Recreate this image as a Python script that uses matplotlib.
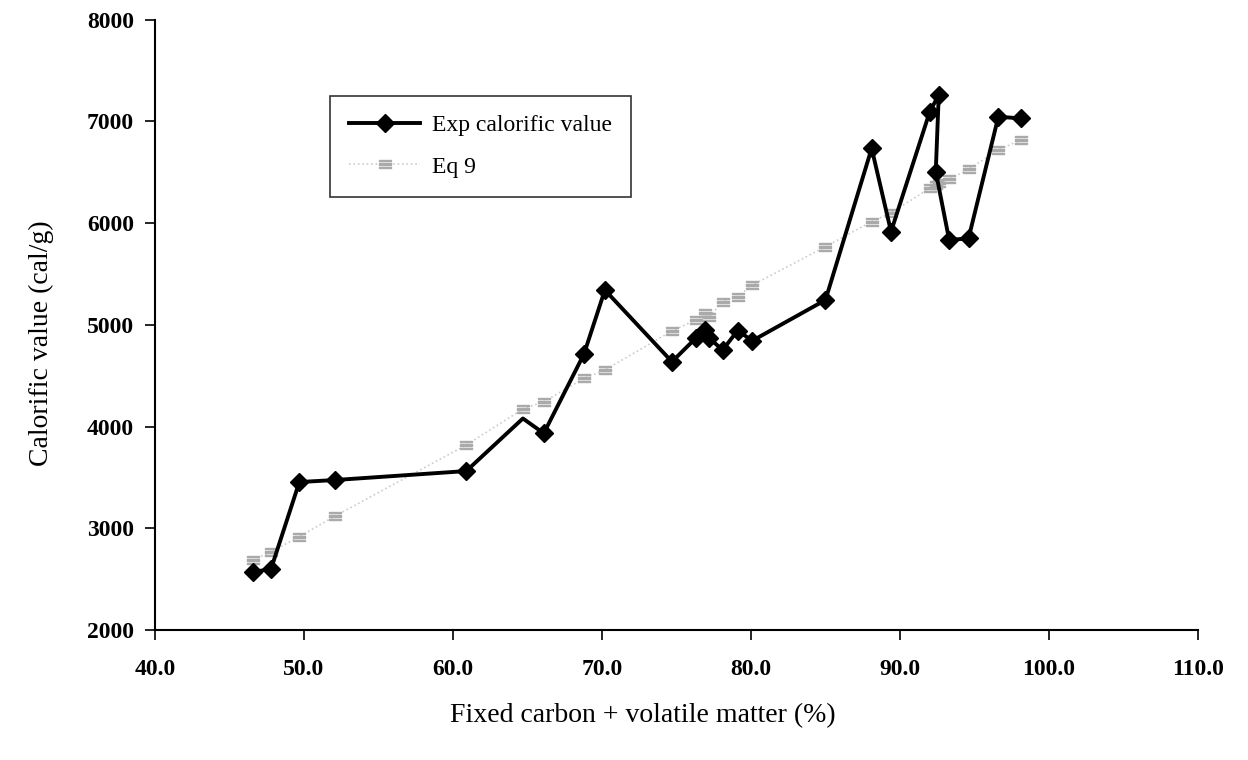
import matplotlib
matplotlib.use("Agg")
import matplotlib.pyplot as plt

# Fixed carbon + volatile matter (%)
fc_vm = [46.6, 47.8, 49.7, 52.1, 60.9, 64.7, 66.1, 68.8, 70.2, 74.7, 76.3, 76.9, 77.2,
         78.1, 79.1, 80.1, 85.0, 88.1, 89.4, 92.0, 92.6, 92.4, 93.3, 94.6, 96.6, 98.1]
# experimental calorific value (cal/g)
exp_cv = [2570, 2600, 3455, 3475, 3563, 4080, 3934, 4714, 5343, 4638, 4870, 4950, 4870,
          4753, 4943, 4845, 5245, 6736, 5917, 7097, 7260, 6507, 5835, 5851, 7047, 7030]
# Eq 9 prediction
eq9_cv = [2688, 2770, 2918, 3121, 3819, 4173, 4245, 4474, 4557, 4940, 5050, 5114, 5080,
          5228, 5277, 5392, 5769, 6015, 6103, 6343, 6400, 6380, 6432, 6530, 6720, 6818]

xticks = [40, 50, 60, 70, 80, 90, 100, 110]
yticks = [2000, 3000, 4000, 5000, 6000, 7000, 8000]

plt.rcParams['font.family'] = ['Liberation Serif', 'DejaVu Serif']

fig = plt.figure(figsize=(12.48, 7.6), dpi=100)
ax = fig.add_axes([0.124, 0.171, 0.836, 0.803])

# marker at 64.7 is hidden under the Eq 9 marker in the original
shown = [i for i in range(len(fc_vm)) if i != 5]

ax.plot(fc_vm, exp_cv, color='black', lw=2.8, marker='D', ms=9.5, markevery=shown,
        label='Exp calorific value', zorder=3)
ax.plot(fc_vm, eq9_cv, color='#cccccc', lw=1.2, ls=':', marker=r'$\equiv$', ms=9,
        mec='#aaaaaa', mfc='#aaaaaa', label='Eq 9', zorder=2)

ax.set_xlim(40, 110)
ax.set_ylim(2000, 8000)
ax.set_xticks(xticks)
ax.set_xticklabels([f'{v:.1f}' for v in xticks])
ax.set_yticks(yticks)
ax.tick_params(direction='out', length=7, width=1.2, labelsize=17, pad=14)
ax.tick_params(axis='y', pad=8)
for lab in ax.get_xticklabels() + ax.get_yticklabels():
    lab.set_fontweight('bold')

ax.spines['top'].set_visible(False)
ax.spines['right'].set_visible(False)
ax.spines['left'].set_linewidth(1.5)
ax.spines['bottom'].set_linewidth(1.5)

ax.set_xlabel('Fixed carbon + volatile matter (%)', fontsize=20)
ax.set_ylabel('Calorific value (cal/g)', fontsize=20)
ax.xaxis.set_label_coords(0.468, -0.12)
ax.yaxis.set_label_coords(-0.097, 0.47)

leg = ax.legend(loc='upper left', bbox_to_anchor=(0.157, 0.895), fontsize=17,
                frameon=True, fancybox=False, edgecolor='black', borderpad=0.8,
                handlelength=3.0, labelspacing=0.85, handletextpad=0.5)
leg.get_frame().set_linewidth(1.2)

fig.savefig('out.png', dpi=100)
